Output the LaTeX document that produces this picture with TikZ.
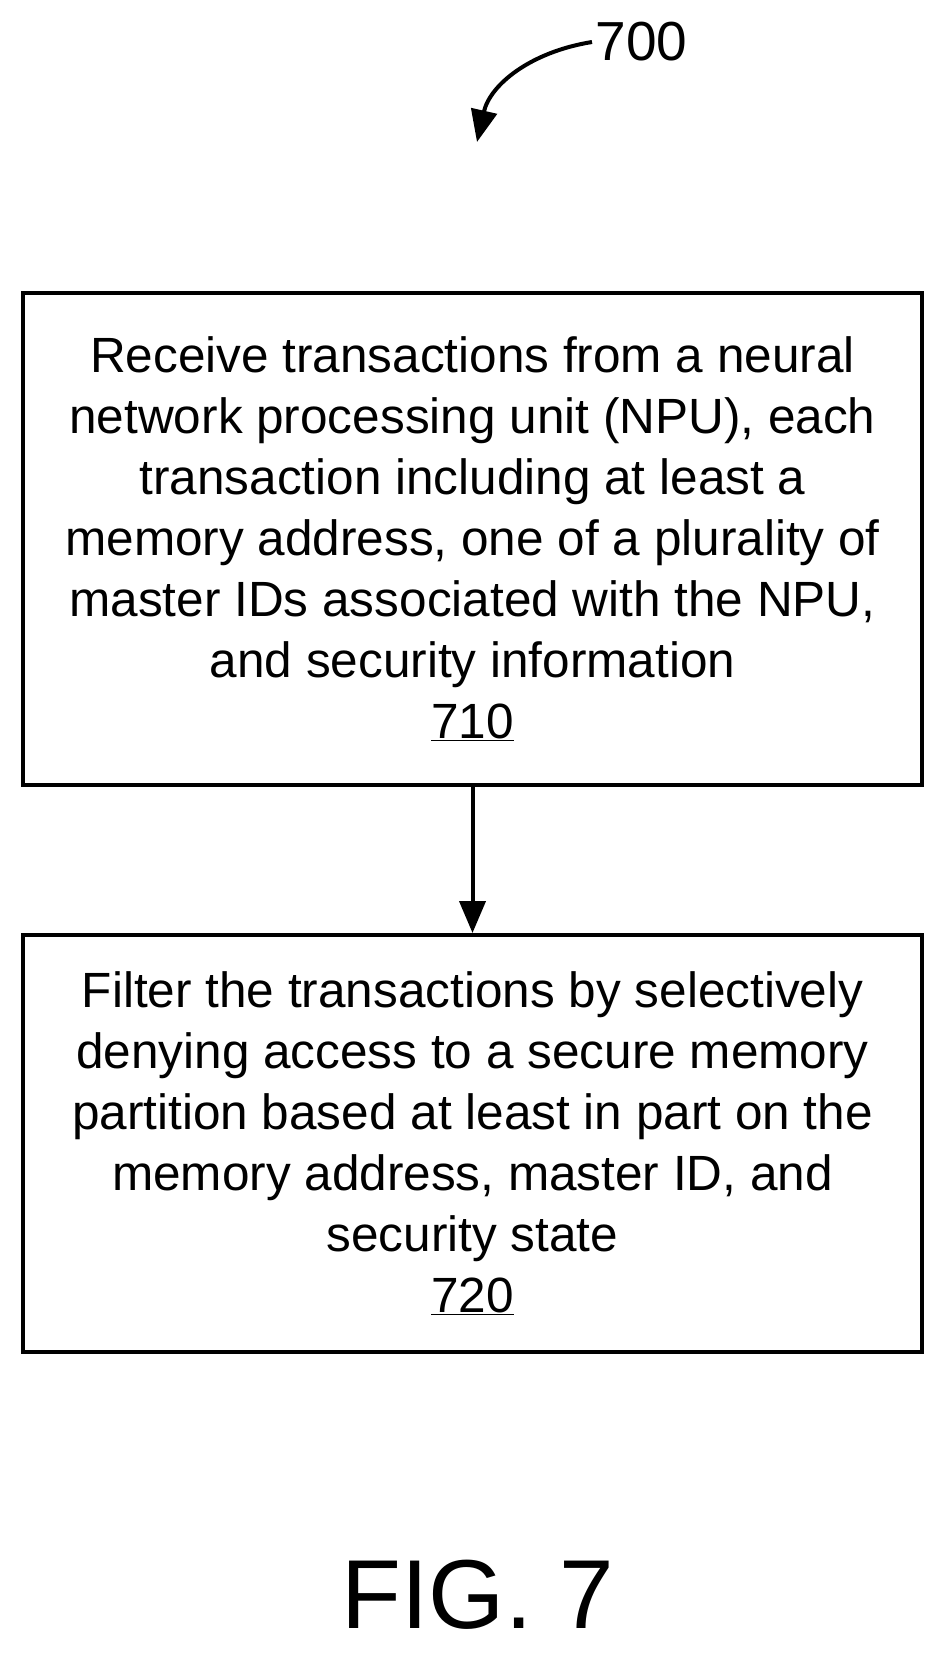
\documentclass[tikz,border=0pt]{standalone}
\usepackage{fontspec}
\setmainfont{Liberation Sans}
\usetikzlibrary{arrows.meta}
\begin{document}
\begin{tikzpicture}[x=1pt,y=-1pt,
  box/.style={draw,line width=4pt,minimum width=899pt,align=center,inner sep=0pt,font=\fontsize{49.5}{61}\selectfont},
  arr/.style={line width=4pt,-{Triangle[length=32pt,width=26pt]}}]
\useasboundingbox (0,0) rectangle (946,1657);
\node[box,minimum height=492pt] (b1) at (472.5,539) {Receive transactions from a neural\\network processing unit (NPU), each\\transaction including at least a\\memory address, one of a plurality of\\master IDs associated with the NPU,\\and security information\\\underline{710}};
\node[box,minimum height=417pt] (b2) at (472.5,1143.5) {Filter the transactions by selectively\\denying access to a secure memory\\partition based at least in part on the\\memory address, master ID, and\\security state\\\underline{720}};
\draw[arr] (b1.south) -- (b2.north);
\node[font=\fontsize{55}{60}\selectfont,anchor=west] (t700) at (592,42) {700};
\coordinate (e) at (477,142);
\draw[arr] (t700.west) .. controls (530,52) and (490,85) .. (e);
\node[font=\fontsize{98}{100}\selectfont] (fig) at (478,1595) {FIG. 7};
\end{tikzpicture}
\end{document}
